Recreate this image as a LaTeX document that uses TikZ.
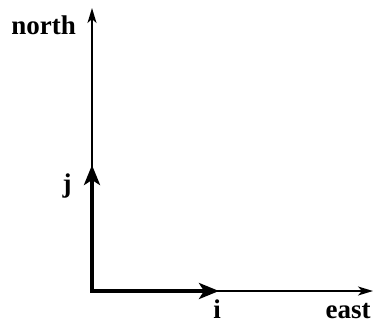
\documentclass[tikz,border=0pt]{standalone}
\usepackage{fontspec}
\setmainfont{Liberation Serif}
\usetikzlibrary{arrows.meta,positioning}

\begin{document}
\begin{tikzpicture}[x=1pt,y=-1pt,
  ax/.style={-{Stealth[length=15pt,width=9pt,inset=4pt]},line width=1.6pt},
  uv/.style={-{Stealth[length=20pt,width=16pt,inset=5pt]},line width=3.6pt},
  lb/.style={font=\fontsize{27}{27}\selectfont\bfseries,inner sep=0pt}]
\useasboundingbox (0,0) rectangle (374,324);
\coordinate (o) at (92,291);
\coordinate (n) at (92,8);
\coordinate (e) at (373,291);
\coordinate (ie) at (219,291);
\coordinate (je) at (92,165);
\draw[ax] (o) -- (n);
\draw[ax] (o) -- (e);
\draw[uv] ([xshift=-1.8pt]o) -- (ie);
\draw[uv] ([yshift=1.8pt]o) -- (je);
\node[lb,anchor=base east] (nl) at (76,34) {north};
\node[lb,anchor=base] (jl) at (67,192) {j};
\node[lb,anchor=base] (il) at (217,318) {i};
\node[lb,anchor=base] (el) at (348,318) {east};
\end{tikzpicture}
\end{document}
